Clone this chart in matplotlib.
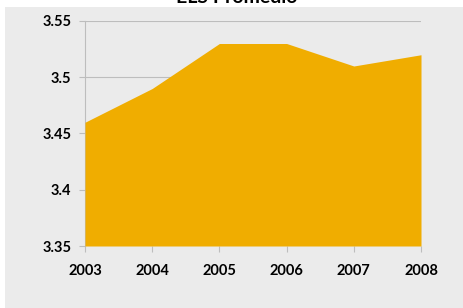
import matplotlib
matplotlib.use("Agg")
import matplotlib.pyplot as plt
from matplotlib.patches import Rectangle

years = [2003, 2004, 2005, 2006, 2007, 2008]
values = [3.46, 3.49, 3.53, 3.53, 3.51, 3.52]
yticks = [3.35, 3.4, 3.45, 3.5, 3.55]
ytick_labels = ["3.35", "3.4", "3.45", "3.5", "3.55"]
title = "ELS Promedio"

W, H = 464, 308
fig = plt.figure(figsize=(W / 100, H / 100), dpi=100)
fig.patch.set_facecolor("white")
bg = "#EBEBEB"
fig.patches.append(Rectangle((5 / W, 0), 1 - 5 / W, 1 - 7 / H, transform=fig.transFigure,
                             facecolor=bg, edgecolor="none", zorder=-5))

ax = fig.add_axes([85 / W, 1 - 246 / H, (421 - 85) / W, (246 - 21) / H])
ax.set_zorder(1)
ax.set_facecolor(bg)
ax.fill_between(years, values, 3.35, color="#F0AD00", linewidth=0, zorder=3)
ax.set_xlim(2003, 2008)
ax.set_ylim(3.35, 3.55)
ax.set_yticks(yticks)
ax.set_yticklabels(ytick_labels)
ax.set_xticks(years)
ax.set_xticklabels([str(y) for y in years])
ax.grid(axis="y", color="#BDBDBD", linewidth=0.8, zorder=1)
ax.set_axisbelow(True)
for s in ["top", "right", "bottom"]:
    ax.spines[s].set_visible(False)
ax.spines["left"].set_color("#BDBDBD")
ax.spines["left"].set_linewidth(0.8)
ax.tick_params(axis="both", colors="#BDBDBD", length=4, width=0.8, labelcolor="black",
               labelsize=10.5)
ax.tick_params(axis="y", pad=6)
ax.tick_params(axis="x", pad=9)
for lab in ax.get_xticklabels() + ax.get_yticklabels():
    lab.set_fontfamily("Lato")
    lab.set_fontweight("bold")

fig.text(237 / W, 1 - 3 / H, title, ha="center", va="baseline", fontsize=14,
         fontweight="bold", fontfamily="Lato")

fig.savefig("out.png", dpi=100)
